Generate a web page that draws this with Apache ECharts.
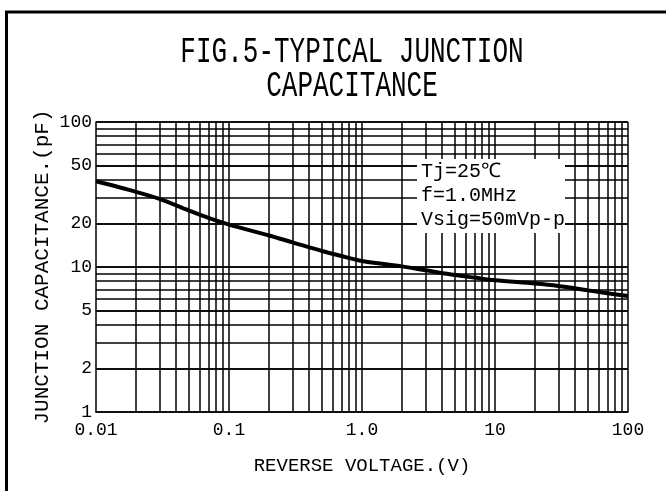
<!DOCTYPE html>
<html><head><meta charset="utf-8">
<script src="https://cdn.jsdelivr.net/npm/echarts@6/dist/echarts.min.js"></script>
<style>html,body{margin:0;padding:0;background:#fff}#c{width:666px;height:491px}</style>
</head><body><div id="c"></div>
<script>
// ---- data ----
const voltage = [0.01, 0.02, 0.03, 0.05, 0.07, 0.1, 0.2, 0.3, 0.5, 0.7, 1, 2, 3, 5, 7, 10, 20, 30, 50, 70, 100];
const capacitance = [39, 33, 29.5, 24.5, 21.8, 19.6, 16.5, 14.8, 12.9, 11.9, 11.0, 10.1, 9.5, 8.8, 8.45, 8.1, 7.7, 7.4, 6.9, 6.6, 6.3];
const xTickLabels = ['0.01', '0.1', '1.0', '10', '100'];
const yTickValues = [1, 2, 5, 10, 20, 50, 100];
const xGridValues = [0.02,0.03,0.04,0.05,0.06,0.07,0.08,0.09,0.1,0.2,0.3,0.4,0.5,0.6,0.7,0.8,0.9,1,2,3,4,5,6,7,8,9,10,20,30,40,50,60,70,80,90,100];
const yGridValues = [2,3,4,5,6,7,8,9,10,20,30,40,50,60,70,80,90,100];
const titleLines = ['FIG.5-TYPICAL JUNCTION', 'CAPACITANCE'];
const noteLines = ['Tj=25℃', 'f=1.0MHz', 'Vsig=50mVp-p'];
const xName = 'REVERSE VOLTAGE.(V)';
const yName = 'JUNCTION CAPACITANCE.(pF)';

const FONT = '"Liberation Mono", "DejaVu Sans Mono", monospace';
const chart = echarts.init(document.getElementById('c'), null, {renderer: 'canvas'});

const gridLine = {color: '#000', width: 1.5, type: 'solid'};

chart.setOption({
  animation: false,
  backgroundColor: '#fff',
  grid: {left: 96, right: 38, top: 122, bottom: 79, containLabel: false},
  xAxis: {
    type: 'log', logBase: 10, min: 0.01, max: 100,
    name: xName, nameLocation: 'middle', nameGap: 44,
    nameTextStyle: {fontFamily: FONT, fontSize: 19, color: '#000'},
    axisLine: {show: true, onZero: false, lineStyle: {color: '#000', width: 1.5}},
    axisTick: {show: false},
    splitLine: {show: false},
    minorSplitLine: {show: false},
    axisLabel: {
      show: true, margin: 9, fontFamily: FONT, fontSize: 18, color: '#000',
      formatter: v => xTickLabels[Math.round(Math.log10(v)) + 2]
    }
  },
  yAxis: {
    type: 'log', logBase: 10, min: 1, max: 100,
    name: yName, nameLocation: 'middle', nameGap: 43, nameRotate: 90,
    nameTextStyle: {fontFamily: FONT, fontSize: 21, color: '#000'},
    axisLine: {show: true, onZero: false, lineStyle: {color: '#000', width: 1.5}},
    axisTick: {show: false},
    splitLine: {show: false},
    axisLabel: {show: false}
  },
  graphic: [
    {type: 'polyline', z: 100, silent: true,
      shape: {points: [[6.5, 491], [6.5, 12], [666, 12]]},
      style: {stroke: '#000', lineWidth: 3, fill: null}},
    {type: 'text', x: 352, y: 52, scaleY: 1.4, z: 100, silent: true,
      style: {text: titleLines[0], font: '26px ' + FONT, fill: '#000', textAlign: 'center', textVerticalAlign: 'middle'}},
    {type: 'text', x: 352, y: 86.5, scaleY: 1.4, z: 100, silent: true,
      style: {text: titleLines[1], font: '26px ' + FONT, fill: '#000', textAlign: 'center', textVerticalAlign: 'middle'}},
    {type: 'rect', z: 8, silent: true,
      shape: {x: 417, y: 159, width: 148, height: 74},
      style: {fill: '#fff'}},
    {type: 'text', x: 421, y: 171.5, z: 9, silent: true,
      style: {text: noteLines[0], font: '20px ' + FONT, fill: '#000', textAlign: 'left', textVerticalAlign: 'middle'}},
    {type: 'text', x: 421, y: 196, z: 9, silent: true,
      style: {text: noteLines[1], font: '20px ' + FONT, fill: '#000', textAlign: 'left', textVerticalAlign: 'middle'}},
    {type: 'text', x: 421, y: 219.5, z: 9, silent: true,
      style: {text: noteLines[2], font: '20px ' + FONT, fill: '#000', textAlign: 'left', textVerticalAlign: 'middle'}}
  ],
  series: [
    {
      name: 'grid', type: 'line', data: [], z: 1, silent: true,
      markLine: {
        silent: true, z: 1, symbol: ['none', 'none'], animation: false,
        label: {show: false},
        lineStyle: gridLine,
        emphasis: {disabled: true},
        data: xGridValues.map(v => ({xAxis: v})).concat(yGridValues.map(v => ({yAxis: v})))
      }
    },
    {
      name: 'ylabels', type: 'line', data: [], z: 1, silent: true,
      markLine: {
        silent: true, z: 1, symbol: ['none', 'none'], animation: false,
        lineStyle: gridLine,
        emphasis: {disabled: true},
        label: {show: true, position: 'start', distance: 4, fontFamily: FONT, fontSize: 18, color: '#000',
          formatter: p => String(p.value)},
        data: yTickValues.map(v => ({yAxis: v}))
      }
    },
    {
      name: 'Capacitance', type: 'line', z: 10,
      data: voltage.map((v, i) => [v, capacitance[i]]),
      smooth: 0.3, symbol: 'none',
      lineStyle: {color: '#000', width: 4}
    }
  ]
});
</script>
</body></html>
